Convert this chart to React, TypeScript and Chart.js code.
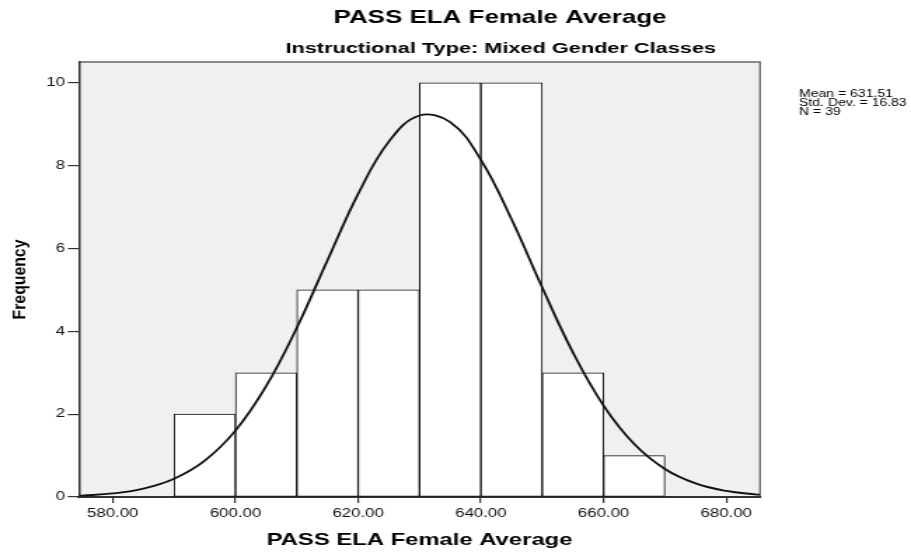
import React, { useEffect, useRef } from "react";
import { Chart, registerables } from "chart.js";

Chart.register(...registerables);

// ---- data ----
const binCenters = [595, 605, 615, 625, 635, 645, 655, 665];
const binCounts = [2, 3, 5, 5, 10, 10, 3, 1];

const curveX = [574.5, 575, 580, 585, 590, 595, 600, 605, 610, 615, 620, 625, 630, 635, 640, 645, 650, 655, 660, 665, 670, 675, 680, 685, 685.5];
const curveY = [0.03, 0.033, 0.086, 0.203, 0.442, 0.879, 1.602, 2.674, 4.085, 5.714, 7.317, 8.579, 9.208, 9.048, 8.14, 6.705, 5.056, 3.491, 2.206, 1.277, 0.676, 0.328, 0.146, 0.059, 0.054];

const xTicks = [580, 600, 620, 640, 660, 680];
const yTicks = [0, 2, 4, 6, 8, 10];

const titleText = "PASS ELA Female Average";
const subtitleText = "Instructional Type: Mixed Gender Classes";
const xTitleText = "PASS ELA Female Average";
const yTitleText = "Frequency";
const statsLines = ["Mean = 631.51", "Std. Dev. = 16.83", "N = 39"];

const FONT = '"Liberation Sans", Arial, Helvetica, sans-serif';
const CW = 650;
const CH = 554;
const SX = 911 / CW;

const decor = {
  id: "decor",
  beforeDraw(chart: any) {
    const { ctx, chartArea: a } = chart;
    ctx.save();
    ctx.fillStyle = "#f0f0f0";
    ctx.fillRect(a.left, a.top, a.right - a.left, a.bottom - a.top);
    ctx.strokeStyle = "#666";
    ctx.lineWidth = 1.3;
    ctx.beginPath();
    ctx.moveTo(a.left, a.top);
    ctx.lineTo(a.right, a.top);
    ctx.lineTo(a.right, a.bottom);
    ctx.stroke();
    ctx.restore();
  },
  afterDraw(chart: any) {
    const { ctx, chartArea: a } = chart;
    ctx.save();
    ctx.fillStyle = "#000";
    ctx.textBaseline = "alphabetic";
    ctx.textAlign = "center";
    ctx.font = `bold 18.5px ${FONT}`;
    ctx.fillText(titleText, 356.8, 23.3);
    ctx.font = `bold 15.5px ${FONT}`;
    ctx.fillText(subtitleText, 357.3, 53);
    ctx.font = `bold 17px ${FONT}`;
    ctx.fillText(xTitleText, (a.left + a.right) / 2, 545);

    ctx.save();
    ctx.translate(17.8, (a.top + a.bottom) / 2);
    ctx.scale(0.85, 1);
    ctx.rotate(-Math.PI / 2);
    ctx.font = `bold 15.8px ${FONT}`;
    ctx.textAlign = "center";
    ctx.fillText(yTitleText, 0, 0);
    ctx.restore();

    ctx.textAlign = "left";
    ctx.font = `10px ${FONT}`;
    statsLines.forEach((s, i) => ctx.fillText(s, 570.1, 96.5 + i * 9.3));
    ctx.restore();
  },
};

export default function App() {
  const ref = useRef<HTMLCanvasElement>(null);

  useEffect(() => {
    const canvas = ref.current;
    if (!canvas) return;
    const chart = new Chart(canvas, {
      type: "bar",
      data: {
        datasets: [
          {
            type: "line",
            data: curveX.map((x, i) => ({ x, y: curveY[i] })),
            borderColor: "#111",
            borderWidth: 1.8,
            pointRadius: 0,
            tension: 0.4,
            fill: false,
            order: 0,
          } as any,
          {
            type: "bar",
            data: binCenters.map((x, i) => ({ x, y: binCounts[i] })),
            backgroundColor: "#ffffff",
            borderColor: "#111",
            borderWidth: 1,
            borderSkipped: false,
            barPercentage: 1,
            categoryPercentage: 1,
            order: 1,
          } as any,
        ],
      },
      options: {
        responsive: false,
        animation: false,
        devicePixelRatio: 1,
        layout: { padding: { top: 62, right: CW - 760 / SX, left: 0, bottom: 0 } },
        plugins: { legend: { display: false }, tooltip: { enabled: false }, title: { display: false } },
        scales: {
          x: {
            type: "linear",
            offset: false,
            min: 574.5,
            max: 685.5,
            afterBuildTicks: (s: any) => {
              s.ticks = xTicks.map((v) => ({ value: v }));
            },
            afterFit: (s: any) => {
              s.height = 57;
            },
            grid: { offset: false, drawOnChartArea: false, drawTicks: true, tickLength: 6, color: "#333", lineWidth: 1.2 },
            border: { color: "#333", width: 2 },
            ticks: {
              font: { family: FONT, size: 12 },
              color: "#111",
              padding: 3,
              maxRotation: 0,
              autoSkip: false,
              callback: (v: any) => Number(v).toFixed(2),
            },
          },
          y: {
            type: "linear",
            min: 0,
            max: 10.5,
            afterBuildTicks: (s: any) => {
              s.ticks = yTicks.map((v) => ({ value: v }));
            },
            afterFit: (s: any) => {
              s.width = 79 / SX;
            },
            grid: { drawOnChartArea: false, drawTicks: true, tickLength: 8, color: "#333", lineWidth: 1.2 },
            border: { color: "#333", width: 1.5 },
            ticks: {
              font: { family: FONT, size: 12 },
              color: "#111",
              padding: 2,
              autoSkip: false,
              callback: (v: any) => String(v),
            },
          },
        },
      },
      plugins: [decor],
    } as any);
    return () => chart.destroy();
  }, []);

  return (
    <div style={{ position: "absolute", left: 0, top: 0, width: 911, height: 554, background: "#fff" }}>
      <canvas ref={ref} width={CW} height={CH} style={{ width: "911px", height: "554px", display: "block" }} />
    </div>
  );
}
